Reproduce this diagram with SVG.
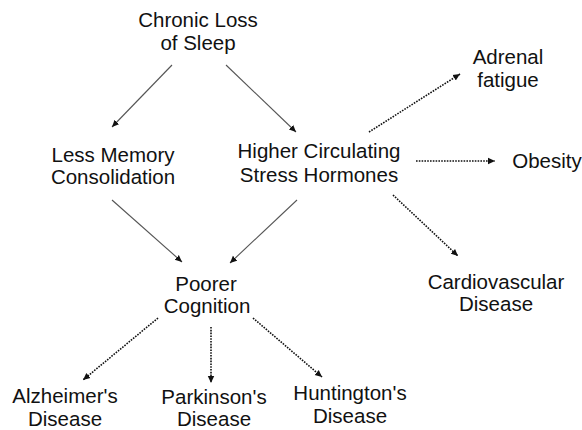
<svg xmlns="http://www.w3.org/2000/svg" width="582" height="430" viewBox="0 0 582 430">
<style>
text{font-family:"Liberation Sans",Arial,sans-serif;font-size:20.5px;fill:#111;text-anchor:middle}
.solid{stroke:#555;stroke-width:1.1;fill:none}
.dot{stroke:#111;stroke-width:1.6;stroke-dasharray:1.6 1.2;fill:none}
</style>
<defs>
<marker id="ah" markerUnits="userSpaceOnUse" markerWidth="8" markerHeight="8" viewBox="0 0 8 8" refX="7" refY="4" orient="auto">
<path d="M0,0.8 L7,4 L0,7.2 Z" fill="#111"/>
</marker>
</defs>
<rect width="582" height="430" fill="#fff"/>
<g id="connectors">
<line class="solid" x1="172" y1="65" x2="112" y2="127" marker-end="url(#ah)"/>
<line class="solid" x1="226" y1="65" x2="296" y2="132" marker-end="url(#ah)"/>
<line class="solid" x1="112" y1="200" x2="182" y2="262" marker-end="url(#ah)"/>
<line class="solid" x1="297" y1="200" x2="230" y2="263" marker-end="url(#ah)"/>
<line class="dot" x1="369" y1="132" x2="460" y2="74" marker-end="url(#ah)"/>
<line class="dot" x1="416" y1="161" x2="495" y2="161" marker-end="url(#ah)"/>
<line class="dot" x1="393" y1="195" x2="458" y2="256" marker-end="url(#ah)"/>
<line class="dot" x1="158" y1="318" x2="83" y2="380" marker-end="url(#ah)"/>
<line class="dot" x1="211" y1="327" x2="211" y2="383" marker-end="url(#ah)"/>
<line class="dot" x1="253" y1="318" x2="322" y2="377" marker-end="url(#ah)"/>
</g>
<g id="chronic"><text x="198" y="27">Chronic Loss</text><text x="198" y="50">of Sleep</text></g>
<g id="memory"><text x="113" y="162">Less Memory</text><text x="113" y="184">Consolidation</text></g>
<g id="stress"><text x="319" y="158">Higher Circulating</text><text x="319" y="182">Stress Hormones</text></g>
<g id="adrenal"><text x="508" y="64">Adrenal</text><text x="508" y="87">fatigue</text></g>
<g id="obesity"><text x="547" y="168">Obesity</text></g>
<g id="cardio"><text x="496" y="289">Cardiovascular</text><text x="496" y="311">Disease</text></g>
<g id="cognition"><text x="206" y="291">Poorer</text><text x="207" y="313">Cognition</text></g>
<g id="alzheimer"><text x="65" y="403">Alzheimer's</text><text x="65" y="426">Disease</text></g>
<g id="parkinson"><text x="214" y="404">Parkinson's</text><text x="214" y="426">Disease</text></g>
<g id="huntington"><text x="350" y="400">Huntington's</text><text x="350" y="423">Disease</text></g>
</svg>
